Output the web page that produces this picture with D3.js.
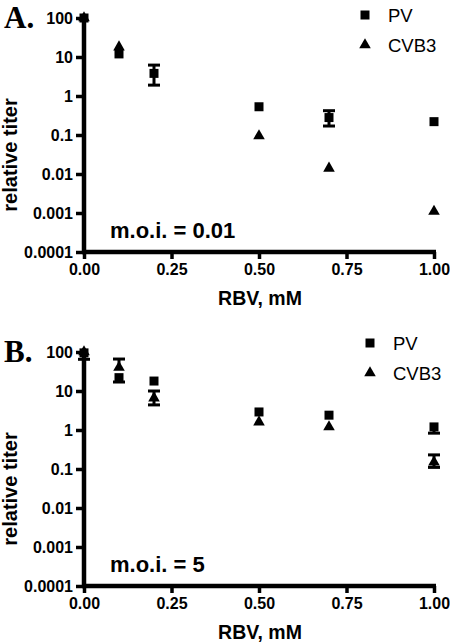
<!DOCTYPE html>
<html><head><meta charset="utf-8">
<script src="https://cdn.jsdelivr.net/npm/d3@7"></script>
<style>body{margin:0;background:#fff}svg{display:block}</style>
</head><body>
<script>
// ---- data ----
const rbv = [0, 0.1, 0.2, 0.5, 0.7, 1.0];
const xTicks = [0, 0.25, 0.5, 0.75, 1.0];
const xTickLabels = ["0.00", "0.25", "0.50", "0.75", "1.00"];
const yTicks = [0.0001, 0.001, 0.01, 0.1, 1, 10, 100];
const yTickLabels = ["0.0001", "0.001", "0.01", "0.1", "1", "10", "100"];
const seriesNames = ["PV", "CVB3"];

// Panel A (m.o.i. = 0.01)
const pvA    = [100, 12, 3.8, 0.53, 0.28, 0.22];
const pvA_lo = [null, null, 1.9, null, 0.17, null];
const pvA_hi = [null, null, 6.2, null, 0.42, null];
const cvbA    = [100, 18, null, 0.095, 0.014, 0.0011];
const cvbA_lo = [null, null, null, null, null, null];
const cvbA_hi = [null, null, null, null, null, null];

// Panel B (m.o.i. = 5)
const pvB    = [95, 22, 18, 2.9, 2.4, 1.2];
const pvB_lo = [65, 17, null, null, null, 0.83];
const pvB_hi = [null, null, null, null, null, null];
const cvbB    = [100, 40, 6.6, 1.6, 1.2, 0.15];
const cvbB_lo = [null, null, 4.4, null, null, 0.11];
const cvbB_hi = [null, 66, 10, null, null, 0.23];

const W = 450, H = 643;
const svg = d3.select("body").append("svg").attr("width", W).attr("height", H);
const font = "'Liberation Sans', Arial, sans-serif";

function panel(cfg) {
  const g = svg.append("g");
  const x = d3.scaleLinear().domain([0, 1]).range([84, 434]);
  const y = d3.scaleLog().domain([0.0001, 100]).range([cfg.bottom, cfg.bottom - 234]);

  // axes
  const ya = g.append("g").attr("transform", "translate(84,0)")
    .call(d3.axisLeft(y).tickValues(yTicks).tickFormat((d, i) => yTickLabels[i]).tickSize(8).tickSizeOuter(0).tickPadding(3));
  const xa = g.append("g").attr("transform", `translate(0,${cfg.bottom})`)
    .call(d3.axisBottom(x).tickValues(xTicks).tickFormat((d, i) => xTickLabels[i]).tickSize(7).tickSizeOuter(0).tickPadding(5));
  [ya, xa].forEach(a => {
    a.select(".domain").attr("stroke", "#000").attr("stroke-width", 4.5);
    a.selectAll(".tick line").attr("stroke", "#000").attr("stroke-width", 3.5);
    a.selectAll("text").attr("font-family", font).attr("font-weight", "bold").attr("font-size", 16).attr("fill", "#000");
  });
  // extend domains slightly to form the corner
  ya.select(".domain").attr("d", `M0,${y(100) - 1}V${cfg.bottom + 2}`);
  xa.select(".domain").attr("d", `M${x(0) - 2},0H${x(1) + 2}`);

  // error bars
  const eb = (vals, lo, hi) => {
    rbv.forEach((r, i) => {
      if (vals[i] == null) return;
      const l = lo[i] != null ? lo[i] : vals[i];
      const h = hi[i] != null ? hi[i] : vals[i];
      if (l === h) return;
      const cx = x(r);
      g.append("line").attr("x1", cx).attr("x2", cx).attr("y1", y(l)).attr("y2", y(h))
        .attr("stroke", "#000").attr("stroke-width", 3);
      [lo[i], hi[i]].forEach(v => {
        if (v == null) return;
        g.append("line").attr("x1", cx - 6).attr("x2", cx + 6).attr("y1", y(v)).attr("y2", y(v))
          .attr("stroke", "#000").attr("stroke-width", 3);
      });
    });
  };
  eb(cfg.cvb, cfg.cvbLo, cfg.cvbHi);
  eb(cfg.pv, cfg.pvLo, cfg.pvHi);

  const tri = d3.symbol().type(d3.symbolTriangle).size(58)();
  const sq = d3.symbol().type(d3.symbolSquare).size(81)();
  g.selectAll(".cvb").data(rbv.map((r, i) => [r, cfg.cvb[i]]).filter(d => d[1] != null))
    .join("path").attr("d", tri).attr("fill", "#000")
    .attr("transform", d => `translate(${x(d[0])},${y(d[1])})`);
  g.selectAll(".pv").data(rbv.map((r, i) => [r, cfg.pv[i]]).filter(d => d[1] != null))
    .join("path").attr("d", sq).attr("fill", "#000")
    .attr("transform", d => `translate(${x(d[0])},${y(d[1])})`);

  // legend
  const lx = cfg.legX, ly = cfg.legY;
  g.append("path").attr("d", sq).attr("transform", `translate(${lx},${ly})`);
  g.append("path").attr("d", tri).attr("transform", `translate(${lx},${ly + 30})`);
  g.append("text").attr("x", lx + 23).attr("y", ly + 7).text(seriesNames[0])
    .attr("font-family", font).attr("font-size", 18.5);
  g.append("text").attr("x", lx + 23).attr("y", ly + 37).text(seriesNames[1])
    .attr("font-family", font).attr("font-size", 18.5);

  // panel letter
  g.append("text").attr("x", 4).attr("y", cfg.bottom - 224).text(cfg.letter)
    .attr("font-family", "'Liberation Serif', 'Times New Roman', serif").attr("font-weight", "bold").attr("font-size", 31);
  // moi
  g.append("text").attr("x", 110).attr("y", cfg.bottom - 14).text(cfg.moi)
    .attr("font-family", font).attr("font-weight", "bold").attr("font-size", 22);
  // x label
  g.append("text").attr("x", 260).attr("y", cfg.bottom + 53).attr("text-anchor", "middle").text("RBV, mM")
    .attr("font-family", font).attr("font-weight", "bold").attr("font-size", 19.5);
  // y label
  g.append("text").attr("transform", `translate(17,${cfg.bottom - 97}) rotate(-90)`).attr("text-anchor", "middle")
    .text("relative titer").attr("font-family", font).attr("font-weight", "bold").attr("font-size", 20);
}

panel({letter: "A.", moi: "m.o.i. = 0.01", bottom: 252, legX: 365, legY: 15,
  pv: pvA, pvLo: pvA_lo, pvHi: pvA_hi, cvb: cvbA, cvbLo: cvbA_lo, cvbHi: cvbA_hi});
panel({letter: "B.", moi: "m.o.i. = 5", bottom: 586, legX: 370, legY: 343,
  pv: pvB, pvLo: pvB_lo, pvHi: pvB_hi, cvb: cvbB, cvbLo: cvbB_lo, cvbHi: cvbB_hi});
</script>
</body></html>
